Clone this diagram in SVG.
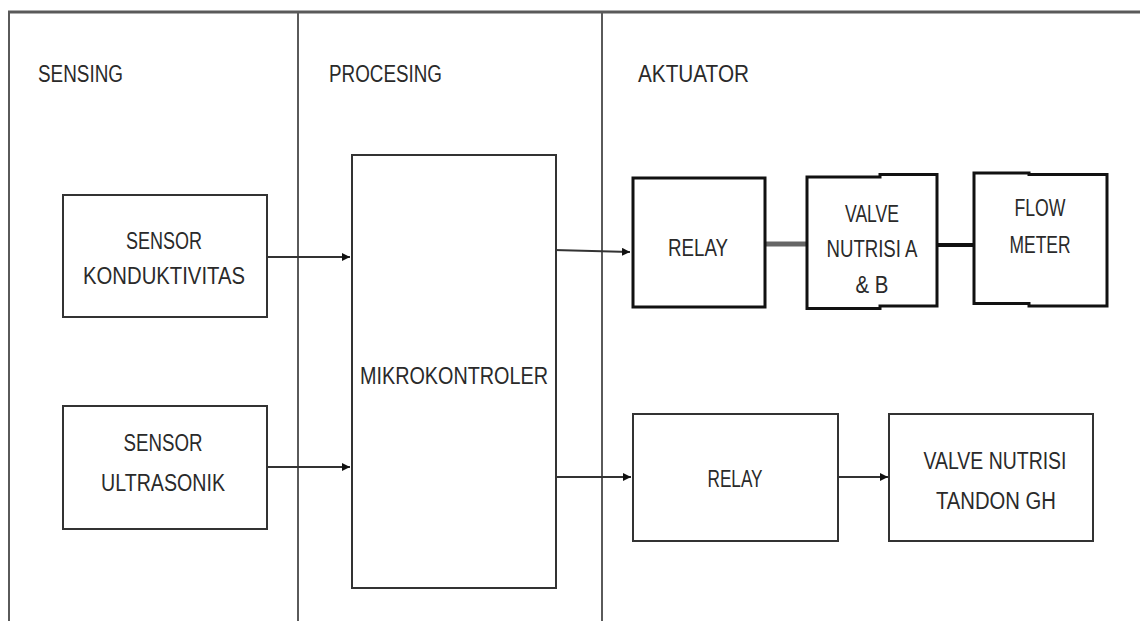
<svg xmlns="http://www.w3.org/2000/svg" width="1140" height="621" viewBox="0 0 1140 621">
<style>
.frame{stroke:#5a5a5a;stroke-width:2;fill:none}
.box{fill:#fff;stroke:#333;stroke-width:2}
.bold{fill:#fff;stroke:#111;stroke-width:3}
.conn{stroke:#333;stroke-width:2;fill:none}
text{font-family:"Liberation Sans",Arial,sans-serif;font-size:23px;fill:#2a2a2a;text-anchor:middle}
.hdr{text-anchor:start}
</style>
<defs>
<marker id="ah" viewBox="0 0 8 8" refX="8" refY="4" markerWidth="8" markerHeight="8" markerUnits="userSpaceOnUse" orient="auto">
<path d="M0,0 L8,4 L0,8 z" fill="#111"/>
</marker>
</defs>
<rect width="1140" height="621" fill="#fff"/>
<g id="frame">
<line class="frame" x1="8" y1="12" x2="1140" y2="12" style="stroke-width:3"/>
<line class="frame" x1="9" y1="12" x2="9" y2="621"/>
<line class="frame" x1="298" y1="12" x2="298" y2="621"/>
<line class="frame" x1="602" y1="12" x2="602" y2="621"/>
<text class="hdr" x="38" y="82" textLength="85" lengthAdjust="spacingAndGlyphs">SENSING</text>
<text class="hdr" x="329" y="82" textLength="113" lengthAdjust="spacingAndGlyphs">PROCESING</text>
<text class="hdr" x="638" y="82" textLength="111" lengthAdjust="spacingAndGlyphs">AKTUATOR</text>
</g>
<g id="connectors">
<line class="conn" x1="266" y1="257" x2="350" y2="257" marker-end="url(#ah)"/>
<line class="conn" x1="266" y1="467" x2="350" y2="467" marker-end="url(#ah)"/>
<line class="conn" x1="554" y1="250" x2="630" y2="252" marker-end="url(#ah)"/>
<line class="conn" x1="556" y1="477" x2="631" y2="477" marker-end="url(#ah)"/>
<line class="conn" x1="838" y1="477" x2="888" y2="477" marker-end="url(#ah)"/>
<line x1="765" y1="244" x2="806" y2="244" stroke="#666" stroke-width="5"/>
<line x1="937" y1="245" x2="974" y2="245" stroke="#111" stroke-width="4"/>
</g>
<g id="sensor-konduktivitas">
<rect class="box" x="63" y="195" width="204" height="122"/>
<text x="164" y="249" textLength="76" lengthAdjust="spacingAndGlyphs">SENSOR</text>
<text x="164" y="284" textLength="162" lengthAdjust="spacingAndGlyphs">KONDUKTIVITAS</text>
</g>
<g id="sensor-ultrasonik">
<rect class="box" x="63" y="406" width="204" height="123"/>
<text x="163" y="451" textLength="79" lengthAdjust="spacingAndGlyphs">SENSOR</text>
<text x="163" y="491" textLength="124" lengthAdjust="spacingAndGlyphs">ULTRASONIK</text>
</g>
<g id="mikrokontroler">
<rect class="box" x="352" y="155" width="204" height="433"/>
<text x="454" y="384" textLength="188" lengthAdjust="spacingAndGlyphs">MIKROKONTROLER</text>
</g>
<g id="relay-1">
<rect class="bold" x="633" y="178" width="132" height="129"/>
<text x="698" y="256" textLength="60" lengthAdjust="spacingAndGlyphs">RELAY</text>
</g>
<g id="valve-ab">
<path class="bold" d="M807,177 L880,177 L880,174.5 L937,174.5 L937,306 L880,306 L880,308.5 L807,308.5 Z"/>
<text x="872" y="222" textLength="54" lengthAdjust="spacingAndGlyphs">VALVE</text>
<text x="872" y="257" textLength="91" lengthAdjust="spacingAndGlyphs">NUTRISI A</text>
<text x="872" y="293" textLength="33" lengthAdjust="spacingAndGlyphs">&amp; B</text>
</g>
<g id="flow-meter">
<path class="bold" d="M974,173 L1029,173 L1029,174.5 L1107,174.5 L1107,306 L1029,306 L1029,303.5 L974,303.5 Z"/>
<text x="1040" y="216" textLength="51" lengthAdjust="spacingAndGlyphs">FLOW</text>
<text x="1040" y="253" textLength="61" lengthAdjust="spacingAndGlyphs">METER</text>
</g>
<g id="relay-2">
<rect class="box" x="633" y="414" width="205" height="127"/>
<text x="735" y="487" textLength="55" lengthAdjust="spacingAndGlyphs">RELAY</text>
</g>
<g id="valve-tandon">
<rect class="box" x="889" y="414" width="204" height="127"/>
<text x="995" y="469" textLength="143" lengthAdjust="spacingAndGlyphs">VALVE NUTRISI</text>
<text x="996" y="509" textLength="120" lengthAdjust="spacingAndGlyphs">TANDON GH</text>
</g>
</svg>
